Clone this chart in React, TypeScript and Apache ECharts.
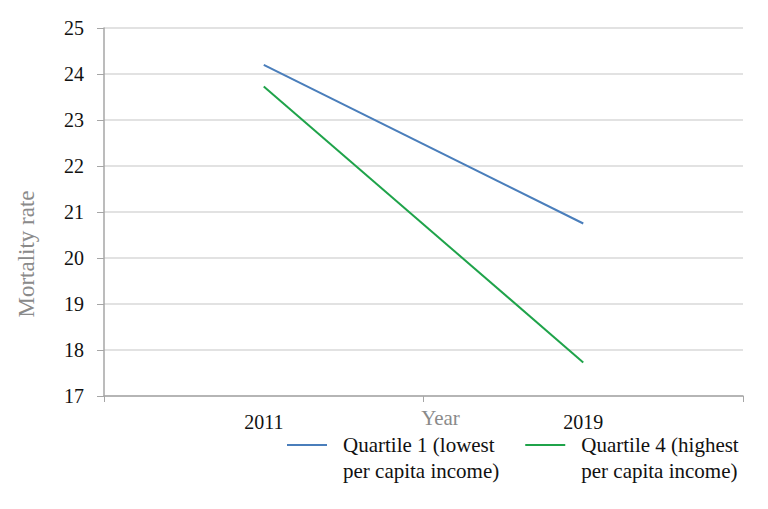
import React, { useEffect, useRef } from "react";
import * as echarts from "echarts";

const years = ["2011", "2019"];
const quartile1 = [24.2, 20.75];
const quartile4 = [23.73, 17.73];
const seriesNames = ["Quartile 1 (lowest\nper capita income)", "Quartile 4 (highest\nper capita income)"];
const yMin = 17;
const yMax = 25;

export default function App() {
  const ref = useRef<HTMLDivElement>(null);
  useEffect(() => {
    if (!ref.current) return;
    const chart = echarts.init(ref.current, null, { renderer: "svg" });
    const serif = "'Liberation Serif', 'DejaVu Serif', serif";
    chart.setOption({
      animation: false,
      backgroundColor: "#ffffff",
      grid: { left: 104, right: 25, top: 28, bottom: 113, containLabel: false },
      xAxis: {
        type: "category",
        data: years,
        boundaryGap: true,
        name: "Year",
        nameLocation: "middle",
        nameGap: 11,
        nameMoveOverlap: false,
        nameTextStyle: { color: "#8a8a8a", fontFamily: serif, fontSize: 21, padding: [0, 0, 0, 34] },
        axisLine: { lineStyle: { color: "#a6a6a6", width: 1.5 } },
        axisTick: { show: true, length: 6, lineStyle: { color: "#a6a6a6" } },
        axisLabel: { color: "#111", fontFamily: serif, fontSize: 20, margin: 16 },
      },
      yAxis: {
        type: "value",
        min: yMin,
        max: yMax,
        interval: 1,
        axisLine: { show: true, lineStyle: { color: "#a6a6a6", width: 1.5 } },
        axisTick: { show: true, length: 7, lineStyle: { color: "#a6a6a6" } },
        axisLabel: { color: "#111", fontFamily: serif, fontSize: 20, margin: 20 },
        splitLine: { lineStyle: { color: "#d9d9d9", width: 1.5 } },
      },
      legend: {
        left: 287,
        top: 406,
        padding: 0,
        itemWidth: 40,
        itemHeight: 14,
        itemGap: 26,
        icon: "path://M0,6 L40,6 L40,8 L0,8 Z",
        formatter: (name: string) => "\n" + name,
        textStyle: { color: "#111", fontFamily: serif, fontSize: 21, lineHeight: 26, padding: [0, 0, 0, 11] },
        data: seriesNames,
      },
      series: [
        {
          name: seriesNames[0],
          type: "line",
          data: quartile1,
          symbol: "none",
          lineStyle: { color: "#4a7ebb", width: 2 },
          itemStyle: { color: "#4a7ebb" },
        },
        {
          name: seriesNames[1],
          type: "line",
          data: quartile4,
          symbol: "none",
          lineStyle: { color: "#1fa34a", width: 2 },
          itemStyle: { color: "#1fa34a" },
        },
      ],
      graphic: [
        {
          type: "text",
          x: 26,
          y: 254,
          rotation: Math.PI / 2,
          style: {
            text: "Mortality rate",
            fill: "#8a8a8a",
            font: "23px 'Liberation Serif', 'DejaVu Serif', serif",
            textAlign: "center",
            textVerticalAlign: "middle",
          },
        },
      ],
    });
    return () => chart.dispose();
  }, []);
  return (
    <div
      ref={ref}
      style={{ position: "fixed", left: 0, top: 0, width: 768, height: 509, background: "#fff" }}
    />
  );
}
